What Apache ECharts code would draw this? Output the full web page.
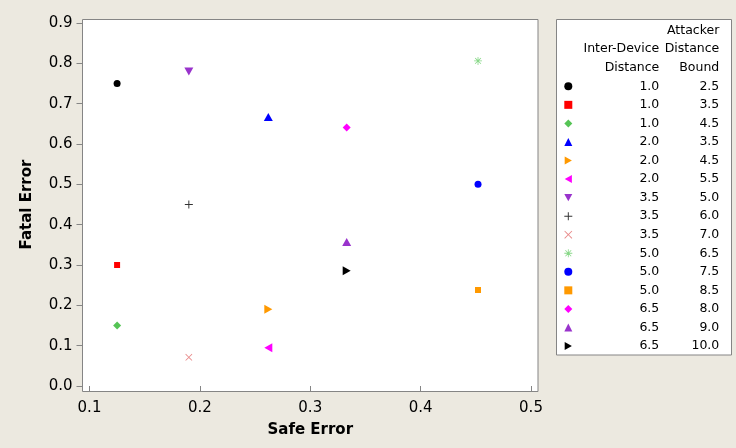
<!DOCTYPE html>
<html>
<head>
<meta charset="utf-8">
<script src="https://cdn.jsdelivr.net/npm/echarts@6/dist/echarts.min.js"></script>
<style>
  html, body { margin: 0; padding: 0; background: #ece9e0; }
  #chart { width: 736px; height: 448px; }
</style>
</head>
<body>
<div id="chart"></div>
<script>
// legend columns
var interDevice = ['1.0', '1.0', '1.0', '2.0', '2.0', '2.0', '3.5', '3.5', '3.5', '5.0', '5.0', '5.0', '6.5', '6.5', '6.5'];
var attackerBound = ['2.5', '3.5', '4.5', '3.5', '4.5', '5.5', '5.0', '6.0', '7.0', '6.5', '7.5', '8.5', '8.0', '9.0', '10.0'];
// point values
var safeError = [0.125, 0.125, 0.125, 0.262, 0.262, 0.262, 0.19, 0.19, 0.19, 0.452, 0.452, 0.452, 0.333, 0.333, 0.333];
var fatalError = [0.75, 0.30, 0.15, 0.667, 0.19, 0.095, 0.78, 0.45, 0.071, 0.806, 0.50, 0.238, 0.641, 0.357, 0.286];
// axis ticks
var xTicks = [0.1, 0.2, 0.3, 0.4, 0.5];
var yTicks = [0.0, 0.1, 0.2, 0.3, 0.4, 0.5, 0.6, 0.7, 0.8, 0.9];

var FONT = 'DejaVu Sans';
var PLUS = 'path://M4.4,0H5.6V4.4H10V5.6H5.6V10H4.4V5.6H0V4.4H4.4Z';
var CROSS = 'path://M0,0.8L0.8,0L5,4.2L9.2,0L10,0.8L5.8,5L10,9.2L9.2,10L5,5.8L0.8,10L0,9.2L4.2,5Z';
var STAR = 'path://M4.5,0H5.5V4.5H10V5.5H5.5V10H4.5V5.5H0V4.5H4.5Z M1,1.7L1.7,1L5,4.3L8.3,1L9,1.7L5.7,5L9,8.3L8.3,9L5,5.7L1.7,9L1,8.3L4.3,5Z';
var DOWN = 'path://M0,0L10,0L5,9Z';
var RIGHT = 'path://M0,0L9,5L0,10Z';
var LEFT = 'path://M9,0L0,5L9,10Z';

var symbols = ['circle', 'rect', 'diamond', 'triangle', RIGHT, LEFT, DOWN, PLUS, CROSS, STAR, 'circle', 'rect', 'diamond', 'triangle', RIGHT];
var sizes = [7, 6, 8, [9, 8], [8, 9], [8, 9], [9, 8], 8, 7, 8, 7, 6, 8, [9, 8], [8, 9]];
var colors = ['#000000', '#ff0000', '#55c455', '#0000ff', '#ff9900', '#ff00ff', '#9933cc', '#333333', '#e88a8a', '#88d888', '#0000ff', '#ff9900', '#ff00ff', '#9933cc', '#000000'];

var series = [];
for (var i = 0; i < safeError.length; i++) {
    series.push({
        name: interDevice[i] + '|' + attackerBound[i],
        type: 'scatter',
        symbol: symbols[i],
        symbolSize: sizes[i],
        itemStyle: { color: colors[i], opacity: 1 },
        emphasis: { disabled: true },
        data: [[safeError[i], fatalError[i]]]
    });
}

var rowH = 18.45;
var chart = echarts.init(document.getElementById('chart'));
var option = {
    animation: false,
    backgroundColor: '#ece9e0',
    textStyle: { fontFamily: FONT },
    grid: { left: 89.5, right: 205, top: 23, bottom: 62 },
    graphic: [
        { type: 'rect', z: -10, shape: { x: 82.5, y: 19.5, width: 455.5, height: 372 },
          style: { fill: '#ffffff', stroke: '#858585', lineWidth: 1 } },
        { type: 'rect', z: -10, shape: { x: 556.5, y: 19.5, width: 175, height: 335.5 },
          style: { fill: '#ffffff', stroke: '#858585', lineWidth: 1 } },
        { type: 'text', x: 719.3, y: 30.7, style: { text: 'Attacker', textAlign: 'right', textVerticalAlign: 'middle', font: '12.5px "DejaVu Sans"', fill: '#000' } },
        { type: 'text', x: 659.3, y: 49, style: { text: 'Inter-Device', textAlign: 'right', textVerticalAlign: 'middle', font: '12.5px "DejaVu Sans"', fill: '#000' } },
        { type: 'text', x: 719.3, y: 49, style: { text: 'Distance', textAlign: 'right', textVerticalAlign: 'middle', font: '12.5px "DejaVu Sans"', fill: '#000' } },
        { type: 'text', x: 659.3, y: 67.3, style: { text: 'Distance', textAlign: 'right', textVerticalAlign: 'middle', font: '12.5px "DejaVu Sans"', fill: '#000' } },
        { type: 'text', x: 719.3, y: 67.3, style: { text: 'Bound', textAlign: 'right', textVerticalAlign: 'middle', font: '12.5px "DejaVu Sans"', fill: '#000' } }
    ],
    legend: {
        orient: 'vertical',
        left: 564.3,
        top: 79.8,
        padding: 0,
        itemGap: 5.55,
        itemWidth: 8,
        itemHeight: 8,
        selectedMode: false,
        formatter: function (name) {
            var p = name.split('|');
            return '{a|' + p[0] + '}{b|' + p[1] + '}';
        },
        textStyle: {
            rich: {
                a: { width: 82, align: 'right', fontSize: 12.5, fontFamily: FONT, color: '#000' },
                b: { width: 60, align: 'right', fontSize: 12.5, fontFamily: FONT, color: '#000' }
            }
        }
    },
    xAxis: {
        type: 'value',
        min: xTicks[0],
        max: xTicks[xTicks.length - 1],
        interval: 0.1,
        offset: 6,
        name: 'Safe Error',
        nameLocation: 'middle',
        nameGap: 31,
        nameTextStyle: { fontFamily: FONT, fontSize: 15, fontWeight: 'bold', color: '#000' },
        axisLine: { show: false },
        axisTick: { show: true, length: 5, lineStyle: { color: '#858585' } },
        axisLabel: { margin: 9, fontFamily: FONT, fontSize: 15, color: '#000',
            formatter: function (v) { return v.toFixed(1); } },
        splitLine: { show: false }
    },
    yAxis: {
        type: 'value',
        min: yTicks[0],
        max: yTicks[yTicks.length - 1],
        interval: 0.1,
        offset: 7,
        name: 'Fatal Error',
        nameLocation: 'middle',
        nameGap: 48,
        nameTextStyle: { fontFamily: FONT, fontSize: 15, fontWeight: 'bold', color: '#000' },
        axisLine: { show: false },
        axisTick: { show: true, length: 6, lineStyle: { color: '#858585' } },
        axisLabel: { margin: 10, fontFamily: FONT, fontSize: 15, color: '#000',
            formatter: function (v) { return v.toFixed(1); } },
        splitLine: { show: false }
    },
    series: series
};
chart.setOption(option);
</script>
</body>
</html>
